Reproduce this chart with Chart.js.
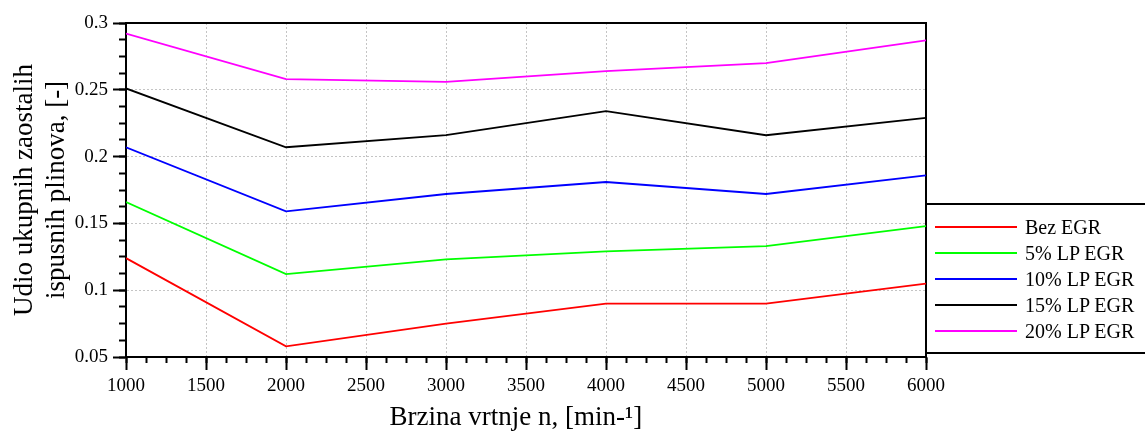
<!DOCTYPE html>
<html>
<head>
<meta charset="utf-8">
<title>Udio ukupnih zaostalih ispusnih plinova</title>
<script src="https://cdn.jsdelivr.net/npm/chart.js@4.4.1/dist/chart.umd.min.js"></script>
<style>
    body { margin: 0; background: #fff; }
    #wrap { position: relative; width: 1145px; height: 432px; }
    #legend {
        position: absolute; left: 926px; top: 203px; width: 219px;
        padding-top: 9px; height: 138px;
        border-top: 2px solid #000; border-bottom: 2px solid #000;
        font-family: 'Liberation Serif', 'Times New Roman', serif;
        font-size: 20px; color: #000;
    }
    .row { display: flex; align-items: center; height: 26px; white-space: nowrap; }
    .swatch { width: 82px; height: 2px; margin-left: 9px; margin-right: 8px; }
</style>
</head>
<body>
<div id="wrap">
    <canvas id="egr-chart"></canvas>
    <div id="legend"></div>
</div>
<script>
// Engine speed, min-1
const speeds = [1000, 2000, 3000, 4000, 5000, 6000];

// Residual exhaust gas fraction, [-]
const bezEgr = [0.124, 0.058, 0.075, 0.090, 0.090, 0.105];
const lpEgr5 = [0.166, 0.112, 0.123, 0.129, 0.133, 0.148];
const lpEgr10 = [0.207, 0.159, 0.172, 0.181, 0.172, 0.186];
const lpEgr15 = [0.251, 0.207, 0.216, 0.234, 0.216, 0.229];
const lpEgr20 = [0.292, 0.258, 0.256, 0.264, 0.270, 0.287];

const seriesNames = ['Bez EGR', '5% LP EGR', '10% LP EGR', '15% LP EGR', '20% LP EGR'];
const seriesValues = [bezEgr, lpEgr5, lpEgr10, lpEgr15, lpEgr20];
const seriesColors = ['#ff0000', '#00ff00', '#0000ff', '#000000', '#ff00ff'];

// Axis range and tick steps
const xMin = 1000, xMax = 6000, xStep = 500, xMinorStep = 125;
const yMin = 0.05, yMax = 0.3, yStep = 0.05, yMinorStep = 0.0125;

const fontFamily = "'Liberation Serif', 'Times New Roman', serif";
Chart.defaults.font.family = fontFamily;
Chart.defaults.color = '#000';

// Put ticks at a fixed step between scale min and max
function stepTicks(step) {
    return function (scale) {
        const ticks = [];
        for (let v = scale.min; v <= scale.max + step / 2; v += step) {
            ticks.push({ value: +v.toFixed(6) });
        }
        scale.ticks = ticks;
    };
}

const datasets = seriesValues.map((values, i) => ({
    label: seriesNames[i],
    data: values.map((v, j) => ({ x: speeds[j], y: v })),
    borderColor: seriesColors[i],
    backgroundColor: seriesColors[i],
    borderWidth: 1.8,
    pointRadius: 0,
    tension: 0
}));

const frameBorder = { display: true, color: '#000', width: 2 };

const ctx = document.getElementById('egr-chart').getContext('2d');
const egrChart = new Chart(ctx, {
    type: 'line',
    data: { datasets: datasets },
    options: {
        responsive: true,
        maintainAspectRatio: false,
        animation: false,
        layout: { padding: { top: 23, right: 219, left: 0, bottom: 0 } },
        plugins: {
            legend: { display: false },
            tooltip: { enabled: false }
        },
        scales: {
            x: {
                type: 'linear', position: 'bottom', weight: 1,
                min: xMin, max: xMax,
                afterBuildTicks: stepTicks(xStep),
                afterFit: (s) => { s.height = 75; },
                ticks: {
                    autoSkip: false, maxRotation: 0, padding: 5,
                    font: { size: 19 },
                    callback: (v) => String(v)
                },
                grid: { color: '#c4c4c4', lineWidth: 1, tickLength: 13, tickColor: '#000', tickWidth: 2 },
                border: { display: true, color: '#000', width: 2, dash: [2, 2] },
                title: {
                    display: true, text: 'Brzina vrtnje n, [min-¹]   ',
                    font: { size: 27, lineHeight: 1.2 }, padding: { top: 0, bottom: -2 }
                }
            },
            xMinor: {
                type: 'linear', position: 'bottom', weight: 0,
                min: xMin, max: xMax,
                afterBuildTicks: stepTicks(xMinorStep),
                afterFit: (s) => { s.height = 0; },
                ticks: { display: false },
                grid: { drawOnChartArea: false, tickLength: 6, tickColor: '#000', tickWidth: 2 },
                border: { display: false }
            },
            xTop: {
                type: 'linear', position: 'top',
                min: xMin, max: xMax,
                ticks: { display: false },
                grid: { display: false, drawTicks: false },
                border: frameBorder
            },
            y: {
                type: 'linear', position: 'left', weight: 1,
                min: yMin, max: yMax,
                afterBuildTicks: stepTicks(yStep),
                afterFit: (s) => { s.width = 126; },
                ticks: {
                    autoSkip: false, padding: 5,
                    font: { size: 19 },
                    callback: (v) => String(+v.toFixed(3))
                },
                grid: { color: '#c4c4c4', lineWidth: 1, tickLength: 13, tickColor: '#000', tickWidth: 2 },
                border: { display: true, color: '#000', width: 2, dash: [2, 2] },
                title: {
                    display: true, text: ['Udio ukupnih zaostalih', 'ispusnih plinova, [-]'],
                    font: { size: 27, lineHeight: 1.19 }, padding: { top: 9, bottom: 0 }
                }
            },
            yMinor: {
                type: 'linear', position: 'left', weight: 0,
                min: yMin, max: yMax,
                afterBuildTicks: stepTicks(yMinorStep),
                afterFit: (s) => { s.width = 0; },
                ticks: { display: false },
                grid: { drawOnChartArea: false, tickLength: 7, tickColor: '#000', tickWidth: 2 },
                border: { display: false }
            },
            yRight: {
                type: 'linear', position: 'right',
                min: yMin, max: yMax,
                ticks: { display: false },
                grid: { display: false, drawTicks: false },
                border: frameBorder
            }
        }
    }
});

// Legend built from the datasets
function buildLegend(chart) {
    const legend = document.getElementById('legend');
    chart.data.datasets.forEach((ds) => {
        const row = document.createElement('div');
        row.className = 'row';
        const swatch = document.createElement('span');
        swatch.className = 'swatch';
        swatch.style.background = ds.borderColor;
        const label = document.createElement('span');
        label.textContent = ds.label;
        row.appendChild(swatch);
        row.appendChild(label);
        legend.appendChild(row);
    });
}

buildLegend(egrChart);
</script>
</body>
</html>
